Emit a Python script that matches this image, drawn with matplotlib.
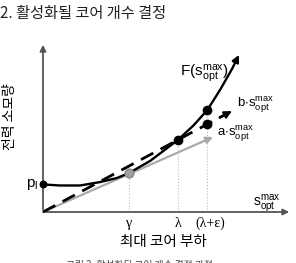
import matplotlib
matplotlib.use("Agg")
import matplotlib.pyplot as plt

plt.rcParams.update({
    "font.family": ["Liberation Sans", "Noto Sans CJK KR", "DejaVu Sans"],
    "mathtext.fontset": "custom",
    "mathtext.rm": "Liberation Sans",
    "mathtext.it": "Liberation Sans:italic",
    "mathtext.default": "regular",
})
KR = ["Noto Sans CJK KR", "DejaVu Sans"]

# power curve F(s_opt^max) (load units, power units)
curve_x = [0.0, 0.68, 1.49, 2.29, 2.97, 3.45, 4.30, 5.42, 6.05, 6.60, 7.11, 7.59, 7.87]
curve_y = [1.62, 1.56, 1.56, 1.76, 2.00, 2.29, 3.00, 4.24, 5.10, 6.00, 7.18, 8.41, 9.24]

p_l = 1.62
gamma_pt = (3.45, 2.29)
lam_pt = (5.42, 4.24)
lam_eps_pt = (6.60, 6.00)
b_tip = (7.59, 5.94)          # end of b*s line
a_tip = (6.83, 4.41)          # end of a*s line
b_dot_y = 0.78 * lam_eps_pt[0]

fig = plt.figure(figsize=(2.96, 2.63), dpi=100)
ax = fig.add_axes([0, 0, 1, 1])
ax.set_xlim(-1.727, 10.161)
ax.set_ylim(-3.0, 12.47)
ax.axis("off")

AX = "#555555"
# axes with arrows
ax.annotate("", xy=(0, 10.0), xytext=(0, 0),
            arrowprops=dict(arrowstyle="-|>", color=AX, lw=1.3, mutation_scale=9))
ax.annotate("", xy=(10.0, 0), xytext=(0, 0),
            arrowprops=dict(arrowstyle="-|>", color=AX, lw=1.3, mutation_scale=9))

# guide lines down to the x axis
for px, py in (gamma_pt, lam_pt, lam_eps_pt):
    ax.plot([px, px], [0, py], color="#bbbbbb", lw=0.8, ls=":", zorder=1)

# a * s line (gray)
ax.annotate("", xy=a_tip, xytext=(0, 0),
            arrowprops=dict(arrowstyle="-|>", color="#aaaaaa", lw=1.6, mutation_scale=10,
                            shrinkA=0, shrinkB=0), zorder=2)

# b * s line (dashed)
ax.plot([0, b_tip[0] - 0.25], [0, b_tip[1] - 0.25 * 0.78], color="black", lw=2.0,
        dashes=(5, 3), zorder=3)
ax.annotate("", xy=b_tip, xytext=(b_tip[0] - 0.5, b_tip[1] - 0.5 * 0.78),
            arrowprops=dict(arrowstyle="-|>", color="black", lw=1.5, mutation_scale=11,
                            shrinkA=0, shrinkB=0), zorder=3)

# F curve
ax.plot(curve_x[:-1], curve_y[:-1], color="black", lw=1.7, zorder=4, solid_capstyle="butt")
ax.annotate("", xy=(curve_x[-1], curve_y[-1]), xytext=(curve_x[-2], curve_y[-2]),
            arrowprops=dict(arrowstyle="-|>", color="black", lw=1.7, mutation_scale=10,
                            shrinkA=0, shrinkB=0), zorder=4)

# points
ax.scatter([0], [p_l], s=22, color="black", zorder=5, clip_on=False)
ax.scatter([gamma_pt[0]], [gamma_pt[1]], s=40, color="#a0a0a0", edgecolor="#888888", zorder=5)
ax.scatter([lam_pt[0], lam_eps_pt[0], lam_eps_pt[0]], [lam_pt[1], lam_eps_pt[1], b_dot_y],
           s=36, color="black", zorder=5)

# labels
ax.text(-0.2, p_l, "$p_l$", ha="right", va="center", fontsize=11)
ax.text(6.5, 8.18, r"F($s_{opt}^{max}$)", ha="center", va="center", fontsize=11)
ax.text(7.8, 6.29, r"b$\cdot s_{opt}^{max}$", ha="left", va="center", fontsize=9.5)
ax.text(7.0, 4.59, r"a$\cdot s_{opt}^{max}$", ha="left", va="center", fontsize=9.5)
ax.text(9.0, 0.55, r"$s_{opt}^{max}$", ha="center", va="center", fontsize=10)
ax.text(gamma_pt[0], -0.65, "γ", ha="center", va="center", fontsize=10,
        family="Liberation Serif")
ax.text(lam_pt[0], -0.65, "λ", ha="center", va="center", fontsize=10,
        family="Liberation Serif")
ax.text(6.7, -0.65, "(λ+ε)", ha="center", va="center", fontsize=10,
        family="Liberation Serif")
ax.text(4.82, -1.78, "최대 코어 부하", ha="center", va="center", fontsize=10.5, family=KR)

fig.text(0.0, 0.947, "2. 활성화될 코어 개수 결정", ha="left", va="center", fontsize=11,
         family=KR, color="#222222")
fig.text(0.034, 0.555, "전력 소모량", rotation=90, ha="center", va="center", fontsize=10,
         family=KR)
fig.text(0.47, 0.012, "그림 2. 활성화된 코어 개수 결정 과정", ha="center", va="top",
         fontsize=7, family=KR, color="#444444")

fig.savefig("out.png", dpi=100)
